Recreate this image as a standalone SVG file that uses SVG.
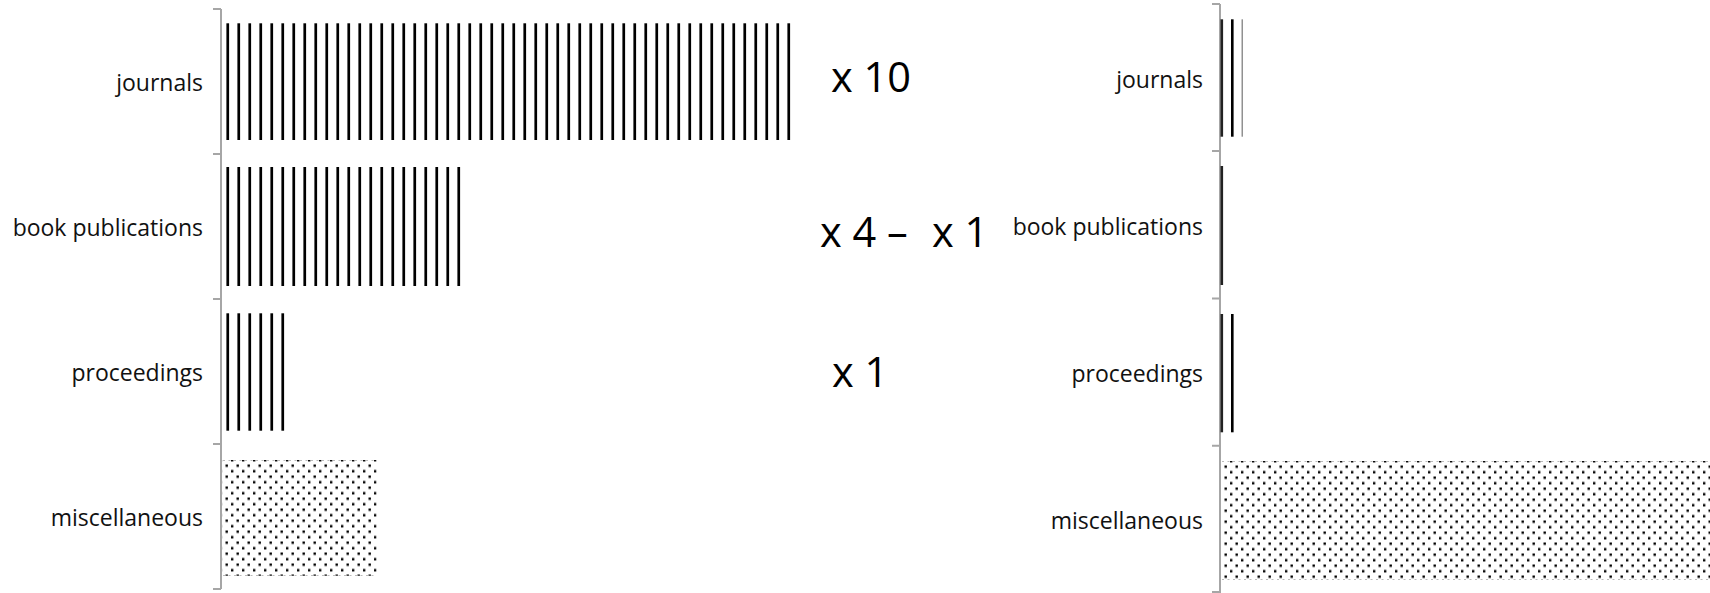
<svg xmlns="http://www.w3.org/2000/svg" width="1710" height="593" viewBox="0 0 1710 593">
<style>
.lbl{font-family:"Open Sans","Liberation Sans",sans-serif;font-size:23px;fill:#111;text-anchor:end}
.big{font-family:"Open Sans","Liberation Sans",sans-serif;font-size:41.5px;fill:#000}
.axis{stroke:#a6a6a6;stroke-width:2;fill:none}
.edge{stroke:#bbb;stroke-width:1;stroke-dasharray:2 3.5}
</style>
<defs>
<pattern id="stripesL" patternUnits="userSpaceOnUse" x="222" y="0" width="11" height="11">
<rect x="4.4" y="0" width="2.7" height="11" fill="#000"/>
</pattern>
<pattern id="dotsL" patternUnits="userSpaceOnUse" x="223" y="462.5" width="11" height="11">
<rect x="2.5" y="2" width="2.4" height="2.4" fill="#000"/>
<rect x="8" y="7.5" width="2.4" height="2.4" fill="#000"/>
</pattern>
<pattern id="dotsR" patternUnits="userSpaceOnUse" x="1222" y="463.5" width="11" height="11">
<rect x="2.5" y="2" width="2.4" height="2.4" fill="#000"/>
<rect x="8" y="7.5" width="2.4" height="2.4" fill="#000"/>
</pattern>
</defs>
<rect width="1710" height="593" fill="#fff"/>

<g id="left-chart">
<g id="left-axis">
<path class="axis" d="M221 9 V589 M213 9 H221 M213 154 H221 M213 299 H221 M213 444 H221 M213 589 H221"/>
</g>
<g id="left-journals">
<rect x="222" y="23.3" width="570" height="116.7" fill="url(#stripesL)"/>
<text class="lbl" x="203" y="90.5">journals</text>
</g>
<g id="left-book">
<rect x="222" y="167" width="240" height="119" fill="url(#stripesL)"/>
<text class="lbl" x="203" y="235.5">book publications</text>
</g>
<g id="left-proceedings">
<rect x="222" y="313.3" width="64" height="117.4" fill="url(#stripesL)"/>
<text class="lbl" x="203" y="380.5">proceedings</text>
</g>
<g id="left-misc">
<rect x="222.7" y="460" width="154" height="115.7" fill="url(#dotsL)"/>
<line class="edge" x1="223" y1="460.5" x2="376.7" y2="460.5"/>
<line class="edge" x1="223" y1="575.5" x2="376.7" y2="575.5"/>
<text class="lbl" x="203" y="525.5">miscellaneous</text>
</g>
</g>

<g id="factors">
<text id="factor-journals" class="big" x="831" y="91.7">x 10</text>
<text id="factor-book" class="big" y="246.7"><tspan x="820">x 4 –</tspan><tspan x="932">x 1</tspan></text>
<text id="factor-proceedings" class="big" x="832" y="386.7">x 1</text>
</g>

<g id="right-chart">
<g id="right-axis">
<path class="axis" d="M1220 4 V593 M1212 4 H1220 M1212 151 H1220 M1212 298.5 H1220 M1212 445.7 H1220 M1212 592 H1220"/>
</g>
<g id="right-journals">
<rect x="1220.5" y="19.3" width="2.6" height="117.4" fill="#222"/>
<rect x="1231" y="19.3" width="2.6" height="117.4" fill="#000"/>
<rect x="1241.6" y="19.3" width="1.2" height="117.4" fill="#777"/>
<text class="lbl" x="1203" y="87.5">journals</text>
</g>
<g id="right-book">
<rect x="1220.5" y="166" width="2.6" height="119" fill="#222"/>
<text class="lbl" x="1203" y="234.7">book publications</text>
</g>
<g id="right-proceedings">
<rect x="1220.5" y="314" width="2.6" height="118.3" fill="#222"/>
<rect x="1231" y="314" width="2.6" height="118.3" fill="#000"/>
<text class="lbl" x="1203" y="382">proceedings</text>
</g>
<g id="right-misc">
<rect x="1222" y="461" width="488" height="119" fill="url(#dotsR)"/>
<line class="edge" x1="1222" y1="461.5" x2="1710" y2="461.5"/>
<line class="edge" x1="1222" y1="579.5" x2="1710" y2="579.5"/>
<text class="lbl" x="1203" y="529.3">miscellaneous</text>
</g>
</g>
<g id="connectors"/>
</svg>
